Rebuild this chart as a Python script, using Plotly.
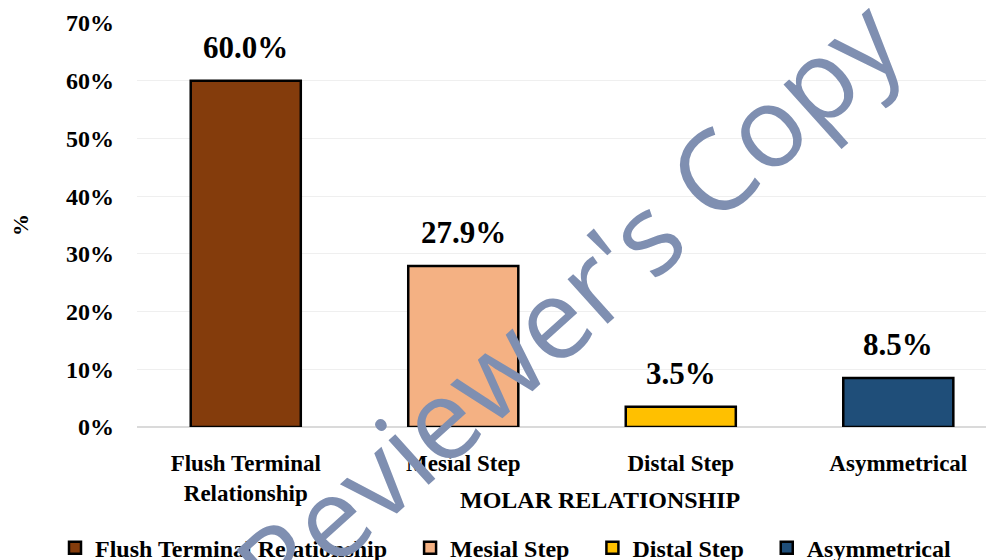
import plotly.graph_objects as go

# Molar relationship distribution
categories = ["Flush Terminal Relationship", "Mesial Step", "Distal Step", "Asymmetrical"]
tick_labels = ["Flush Terminal<br>Relationship", "Mesial Step", "Distal Step", "Asymmetrical"]
percentages = [60.0, 27.9, 3.5, 8.5]
colors = ["#843C0C", "#F4B183", "#FFC000", "#1F4E79"]

FONT = "Liberation Serif"
PAD = "\u00a0" * 3  # extra room between legend entries

# page body has an 8px margin, so the figure is shrunk by that much
fig = go.Figure()
for i, (cat, tick, val, col) in enumerate(zip(categories, tick_labels, percentages, colors)):
    fig.add_trace(go.Bar(
        x=[tick],
        y=[val],
        name=cat + (PAD if i < len(categories) - 1 else ""),
        marker=dict(color=col, line=dict(color="black", width=2.5)),
        width=0.506,
    ))
    # value label above each bar
    fig.add_annotation(
        x=tick, y=val, xref="x", yref="y",
        text=f"{val:.1f}%",
        showarrow=False,
        yanchor="bottom",
        yshift=14,
        font=dict(family=FONT, size=31, color="black", weight="bold"),
    )

fig.update_layout(
    width=986,
    height=552,
    barmode="overlay",
    plot_bgcolor="white",
    paper_bgcolor="white",
    font=dict(family=FONT, size=24, color="black", weight="bold"),
    margin=dict(l=129, r=0, t=15, b=133, autoexpand=False),
    xaxis=dict(
        range=[-0.5, 3.44],
        showline=False,
        ticks="",
        tickfont=dict(size=23, weight="bold"),
        ticklabelstandoff=20,
    ),
    yaxis=dict(
        range=[0, 70],
        dtick=10,
        ticksuffix="%",
        showgrid=True,
        gridcolor="#EFEFEF",
        zeroline=True,
        zerolinecolor="#DADADA",
        tickfont=dict(size=24, weight="bold"),
        ticklabelstandoff=22,
        title=dict(text="%", font=dict(size=22, weight="bold"), standoff=54),
    ),
    legend=dict(
        orientation="h",
        x=(55 - 137) / 857,
        xanchor="left",
        y=-0.30,
        yanchor="middle",
        font=dict(size=24, weight="bold"),
        itemwidth=30,
        traceorder="normal",
    ),
)

# x axis title (sits right of centre in the original)
fig.add_annotation(
    text="MOLAR RELATIONSHIP",
    x=(600 - 137) / 857, y=(427 - 500) / 404, xref="paper", yref="paper",
    xanchor="center", yanchor="middle",
    showarrow=False,
    font=dict(family=FONT, size=24, color="black", weight="bold"),
)

# watermark
fig.add_annotation(
    text="Reviewer's Copy",
    x=(566 - 137) / 857, y=(427 - 302) / 404, xref="paper", yref="paper",
    xanchor="center", yanchor="middle",
    showarrow=False,
    textangle=-42,
    font=dict(family="Open Sans", size=112, color="#7F8FB1", weight="normal"),
)

fig.write_html("out.html")
